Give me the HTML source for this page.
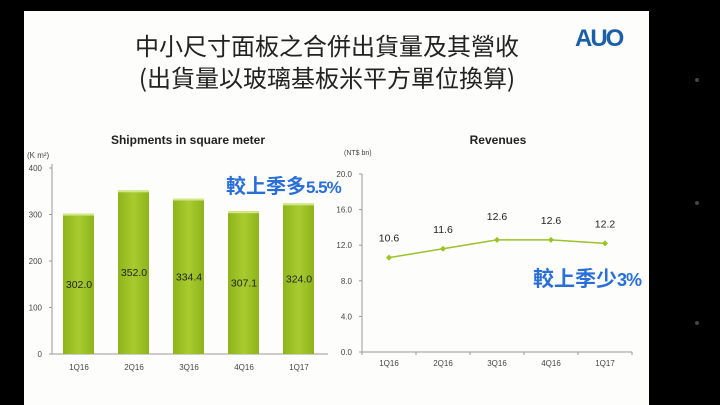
<!DOCTYPE html>
<html><head><meta charset="utf-8"><style>
body{margin:0;background:#000;width:720px;height:405px;overflow:hidden;position:relative;font-family:"Liberation Sans","Noto Sans CJK TC",sans-serif}
#slide{position:absolute;left:24px;top:11px;width:625px;height:394px;background:#fdfdfb}
.t{position:absolute;white-space:nowrap}
</style></head><body>
<div id="slide"></div>
<div class="t" style="left:0;width:654px;top:29px;text-align:center;font-family:'Noto Sans CJK TC',sans-serif;font-size:24px;line-height:32px;color:#222">中小尺寸面板之合併出貨量及其營收<br>(出貨量以玻璃基板米平方單位換算)</div>
<div class="t" style="left:575px;top:25px;font-size:24px;font-weight:bold;color:#1a5fa8;letter-spacing:-2px">AUO</div>
<div style="position:absolute;left:695px;top:78px;width:4px;height:4px;border-radius:2px;background:#444"></div>
<div style="position:absolute;left:695px;top:201px;width:4px;height:4px;border-radius:2px;background:#444"></div>
<div style="position:absolute;left:695px;top:321px;width:4px;height:4px;border-radius:2px;background:#444"></div>
<svg width="720" height="405" style="position:absolute;left:0;top:0" id="c">
<defs><linearGradient id="g" x1="0" x2="1"><stop offset="0" stop-color="#8db41c"/><stop offset=".5" stop-color="#a8cc30"/><stop offset="1" stop-color="#8db41c"/></linearGradient></defs>
</svg>
<div class="t" style="left:226px;top:170px;font-size:20px;color:#2a6fd8;font-family:'Noto Sans CJK TC',sans-serif;font-weight:bold">較上季多<b style="font-family:'Liberation Sans';font-size:17px;letter-spacing:-1px">5.5%</b></div>
<div class="t" style="left:533px;top:263px;font-size:21px;color:#2a6fd8;font-family:'Noto Sans CJK TC',sans-serif;font-weight:bold">較上季少<b style="font-family:'Liberation Sans';font-size:18px;letter-spacing:-1px">3%</b></div>
<script>
const categories=["1Q16","2Q16","3Q16","4Q16","1Q17"];
const shipments=[302.0,352.0,334.4,307.1,324.0];
const shipLabels=["302.0","352.0","334.4","307.1","324.0"];
const shipTicks=[0,100,200,300,400];
const revenues=[10.6,11.6,12.6,12.6,12.2];
const revLabels=["10.6","11.6","12.6","12.6","12.2"];
const revTicks=[0,4,8,12,16,20];
const svg=document.getElementById('c');const NS='http://www.w3.org/2000/svg';
function mk(t,a,txt){const e=document.createElementNS(NS,t);for(const k in a)e.setAttribute(k,a[k]);if(txt!==undefined)e.textContent=txt;svg.appendChild(e);return e;}
const L={x0:52,x1:328,y0:354,y1:168,max:400};
const ly=v=>L.y0-(v/L.max)*(L.y0-L.y1);
const lx=i=>79+i*55;
let e=mk('text',{x:188,y:144,'text-anchor':'middle','font-size':12,'font-weight':'bold',fill:'#222'},'Shipments in square meter');

e=mk('text',{x:27,y:158,'font-size':8,fill:'#444'},'(K m²)');

e=mk('line',{x1:L.x0,y1:L.y1-4,x2:L.x0,y2:L.y0,stroke:'#999'});

e=mk('line',{x1:L.x0,y1:L.y0,x2:L.x1,y2:L.y0,stroke:'#999'});

shipTicks.forEach(t=>{e=mk('text',{x:42,y:ly(t)+3,'text-anchor':'end','font-size':8,fill:'#444'},String(t));

mk('line',{x1:L.x0-3,y1:ly(t),x2:L.x0,y2:ly(t),stroke:'#999'});});
shipments.forEach((v,i)=>{e=mk('rect',{x:lx(i)-16,y:ly(v),width:31,height:L.y0-ly(v),fill:'url(#g)'});

e=mk('rect',{x:lx(i)-16,y:ly(v),width:31,height:2,fill:'#d4e88a'});
e=mk('text',{x:lx(i),y:ly(v)/2+L.y0/2+4,'text-anchor':'middle','font-size':10.5,fill:'#222'},shipLabels[i]);

e=mk('text',{x:lx(i),y:370,'text-anchor':'middle','font-size':8,fill:'#444'},categories[i]);
});
const R={x0:362,x1:632,y0:352,y1:174,max:20};
const ry=v=>R.y0-(v/R.max)*(R.y0-R.y1);
const rx=i=>389+i*54;
e=mk('text',{x:498,y:144,'text-anchor':'middle','font-size':12,'font-weight':'bold',fill:'#222'},'Revenues');

e=mk('text',{x:344,y:155,'font-size':7,fill:'#444'},'(NT$ bn)');

e=mk('line',{x1:R.x0,y1:R.y1,x2:R.x0,y2:R.y0,stroke:'#999'});

e=mk('line',{x1:R.x0,y1:R.y0,x2:R.x1,y2:R.y0,stroke:'#999'});

revTicks.forEach(t=>{e=mk('text',{x:352,y:ry(t)+3,'text-anchor':'end','font-size':8,fill:'#444'},t.toFixed(1));

mk('line',{x1:R.x0-3,y1:ry(t),x2:R.x0,y2:ry(t),stroke:'#999'});});
for(let i=0;i<=5;i++){const x=R.x0+i*54;mk('line',{x1:x,y1:R.y0,x2:x,y2:R.y0+3,stroke:'#999'});}
e=mk('polyline',{points:revenues.map((v,i)=>rx(i)+','+ry(v)).join(' '),fill:'none',stroke:'#9cc22a','stroke-width':1.5});

revenues.forEach((v,i)=>{const x=rx(i),y=ry(v);
e=mk('path',{d:`M${x} ${y-3}L${x+3} ${y}L${x} ${y+3}L${x-3} ${y}Z`,fill:'#9cc22a'});

e=mk('text',{x:x,y:y-16+(i==2?-4:0),'text-anchor':'middle','font-size':10.5,fill:'#222'},revLabels[i]);

e=mk('text',{x:x,y:366,'text-anchor':'middle','font-size':8,fill:'#444'},categories[i]);
});
</script>
</body></html>
